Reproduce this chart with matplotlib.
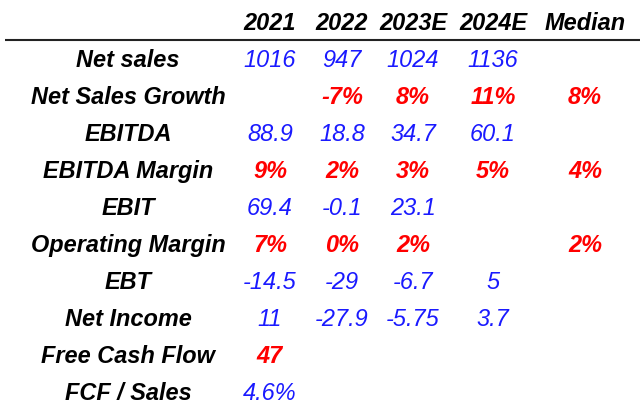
import matplotlib
matplotlib.use("Agg")
from matplotlib import pyplot as plt

# table contents
columns = ["2021", "2022", "2023E", "2024E", "Median"]
row_labels = ["Net sales", "Net Sales Growth", "EBITDA", "EBITDA Margin", "EBIT",
              "Operating Margin", "EBT", "Net Income", "Free Cash Flow", "FCF / Sales"]
net_sales = ["1016", "947", "1024", "1136", ""]
sales_growth = ["", "-7%", "8%", "11%", "8%"]
ebitda = ["88.9", "18.8", "34.7", "60.1", ""]
ebitda_margin = ["9%", "2%", "3%", "5%", "4%"]
ebit = ["69.4", "-0.1", "23.1", "", ""]
op_margin = ["7%", "0%", "2%", "", "2%"]
ebt = ["-14.5", "-29", "-6.7", "5", ""]
net_income = ["11", "-27.9", "-5.75", "3.7", ""]
fcf = ["47", "", "", "", ""]
fcf_sales = ["4.6%", "", "", "", ""]
highlighted = [False, True, False, True, False, True, False, False, True, False]

rows = [net_sales, sales_growth, ebitda, ebitda_margin, ebit,
        op_margin, ebt, net_income, fcf, fcf_sales]

BLUE = "#1a1aff"
RED = "#ff0000"
FONT = "Liberation Sans"
FS = 16.9

fig = plt.figure(figsize=(6.4, 4.07), dpi=100)
ax = fig.add_axes([0, 0, 1, 1])
ax.set_xlim(0, 640)
ax.set_ylim(407, 0)
ax.axis("off")

label_x = 128
col_x = [270, 342, 413, 493, 585]
header_base = 30
row_base0 = 67
row_step = 37

for x, name in zip(col_x, columns):
    ax.text(x, header_base, name, ha="center", va="baseline", fontsize=FS,
            family=FONT, weight="bold", style="italic", color="black")

ax.plot([5, 640], [40, 40], color="#222222", lw=1.5, solid_capstyle="butt")

for i, (label, vals) in enumerate(zip(row_labels, rows)):
    y = row_base0 + i * row_step
    ax.text(label_x, y, label, ha="center", va="baseline", fontsize=FS,
            family=FONT, weight="bold", style="italic", color="black")
    for x, v in zip(col_x, vals):
        if not v:
            continue
        if highlighted[i]:
            ax.text(x, y, v, ha="center", va="baseline", fontsize=FS, family=FONT,
                    weight="bold", style="italic", color=RED)
        else:
            ax.text(x, y, v, ha="center", va="baseline", fontsize=FS, family=FONT,
                    style="italic", color=BLUE)

fig.savefig("out.png", dpi=100, facecolor="white")
